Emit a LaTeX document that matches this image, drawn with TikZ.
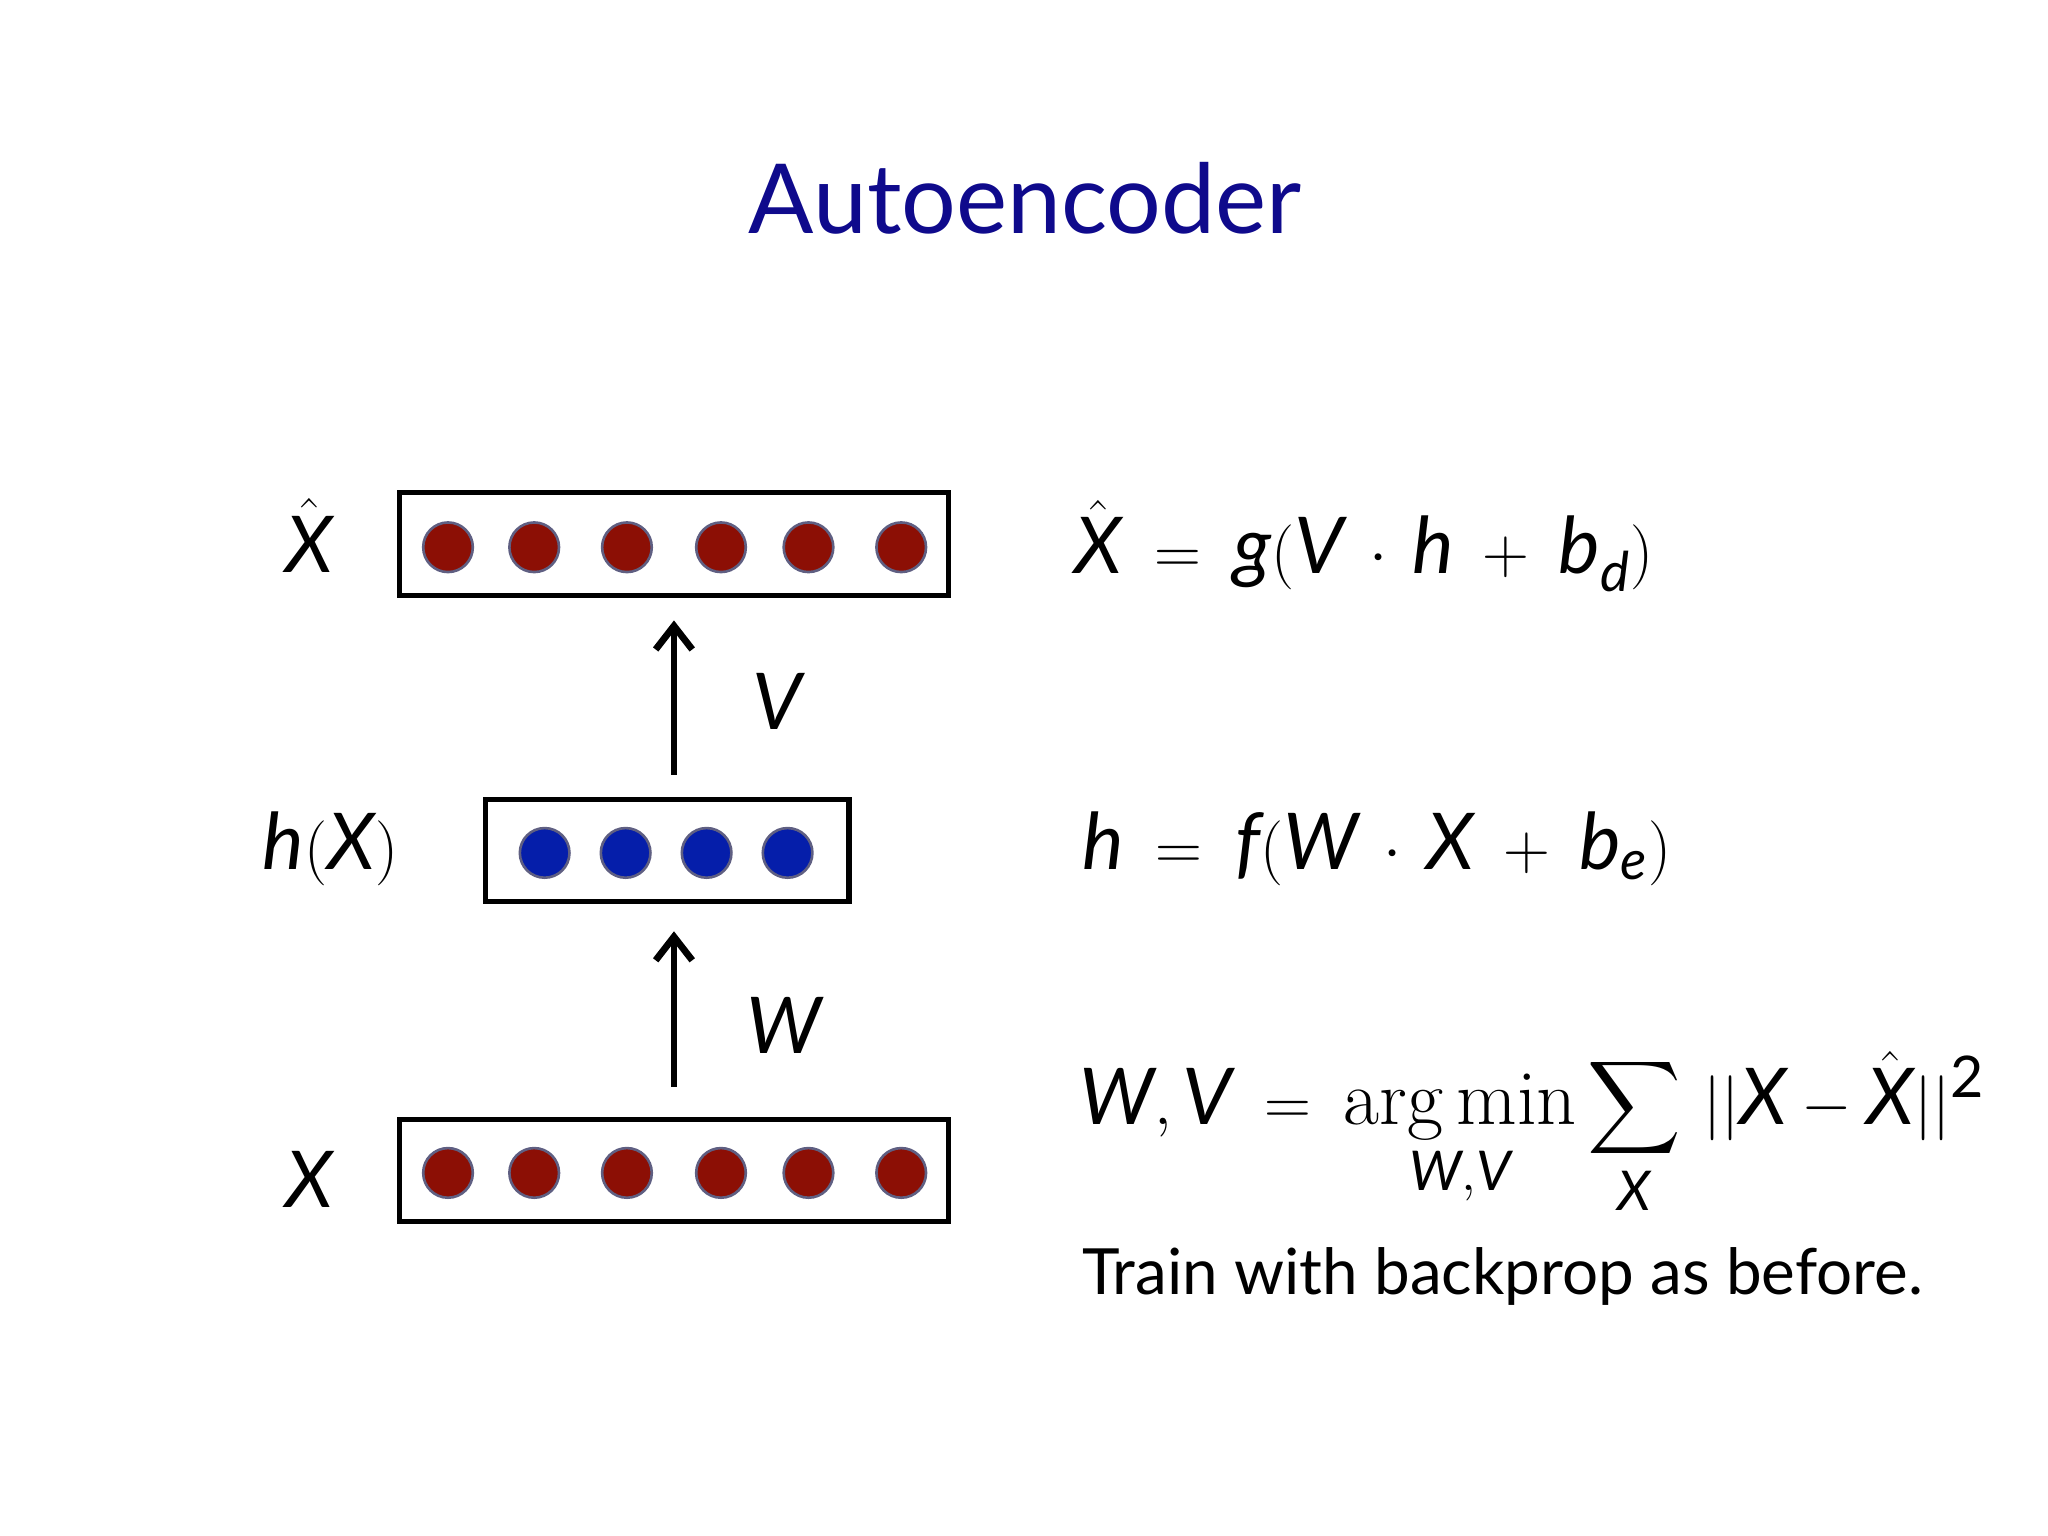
\documentclass[tikz,border=0pt]{standalone}
\usepackage{fontspec}
\setmainfont{Lato}
\usepackage{amsmath}
\usetikzlibrary{arrows.meta}
\newcommand{\vv}[1]{\textit{#1}}
\newcommand{\serif}[1]{\text{\fontfamily{lmr}\selectfont #1}}
\tikzset{
  layer/.style={draw=black,line width=2pt},
  reddot/.style={circle,fill={rgb,255:red,140;green,15;blue,5},draw={rgb,255:red,95;green,95;blue,130},line width=1pt,minimum size=19pt,inner sep=0pt},
  bluedot/.style={circle,fill={rgb,255:red,5;green,30;blue,170},draw={rgb,255:red,95;green,95;blue,130},line width=1pt,minimum size=19pt,inner sep=0pt},
  lbl/.style={font=\fontsize{30}{34}\selectfont,inner sep=0pt},
  eqn/.style={font=\fontsize{30}{34}\selectfont,anchor=west,inner sep=0pt},
  up/.style={line width=2.6pt,-{Straight Barb[length=9pt,width=14pt]}}
}
\begin{document}
\begin{tikzpicture}[x=0.5pt,y=0.5pt,yscale=-1]
\useasboundingbox (0,0) rectangle (1568,1176);

% title
\node[font=\fontsize{37}{42}\selectfont,text={rgb,255:red,15;green,10;blue,140}] (title) at (785,152) {Autoencoder};

% layers
\draw[layer] (306,377) rectangle (726,456);
\draw[layer] (372,612) rectangle (650,690);
\draw[layer] (306,857) rectangle (726,935);
\foreach \x [count=\i] in {343,409,480,552,619,690} {
  \node[reddot] (top\i) at (\x,419) {};
  \node[reddot] (bot\i) at (\x,898) {};
}
\foreach \x [count=\i] in {417,479,541,603}
  \node[bluedot] (mid\i) at (\x,653) {};

% arrows
\coordinate (a1) at (516,593);
\coordinate (a2) at (516,475);
\coordinate (b1) at (516,832);
\coordinate (b2) at (516,713);
\draw[up] (a1) -- (a2);
\draw[up] (b1) -- (b2);

% labels
\node[lbl] (xhat) at (237,410) {$\hat{\vv{X}}$};
\node[lbl] (hx) at (253,650) {$\vv{h}(\vv{X})$};
\node[lbl] (x) at (237,903) {$\vv{X}$};
\node[lbl] (v) at (595,537) {$\vv{V}$};
\node[lbl] (w) at (600,785) {$\vv{W}$};

% equations
\node[eqn] (eq1) at (822,418) {$\hat{\vv{X}} \:=\: \vv{g}(\vv{V}\,\cdot\, \vv{h} \:+\: \vv{b}_{\vv{d}})$};
\node[eqn] (eq2) at (828,650) {$\vv{h} \:=\: \vv{f}(\vv{W}\,\cdot\, \vv{X} \:+\: \vv{b}_{\vv{e}})$};
\node[eqn] (eq3) at (826,868) {$\displaystyle \vv{W},\vv{V} \:=\: \mathop{\serif{arg\,min}}_{\vv{W},\vv{V}} \sum_{\vv{X}} \,||\vv{X} - \hat{\vv{X}}||^{\text{\fontsize{22}{24}\selectfont 2}}$};
\node[eqn,font=\fontsize{24.4}{28}\selectfont] (train) at (828,977) {Train with backprop as before.};
\end{tikzpicture}
\end{document}
